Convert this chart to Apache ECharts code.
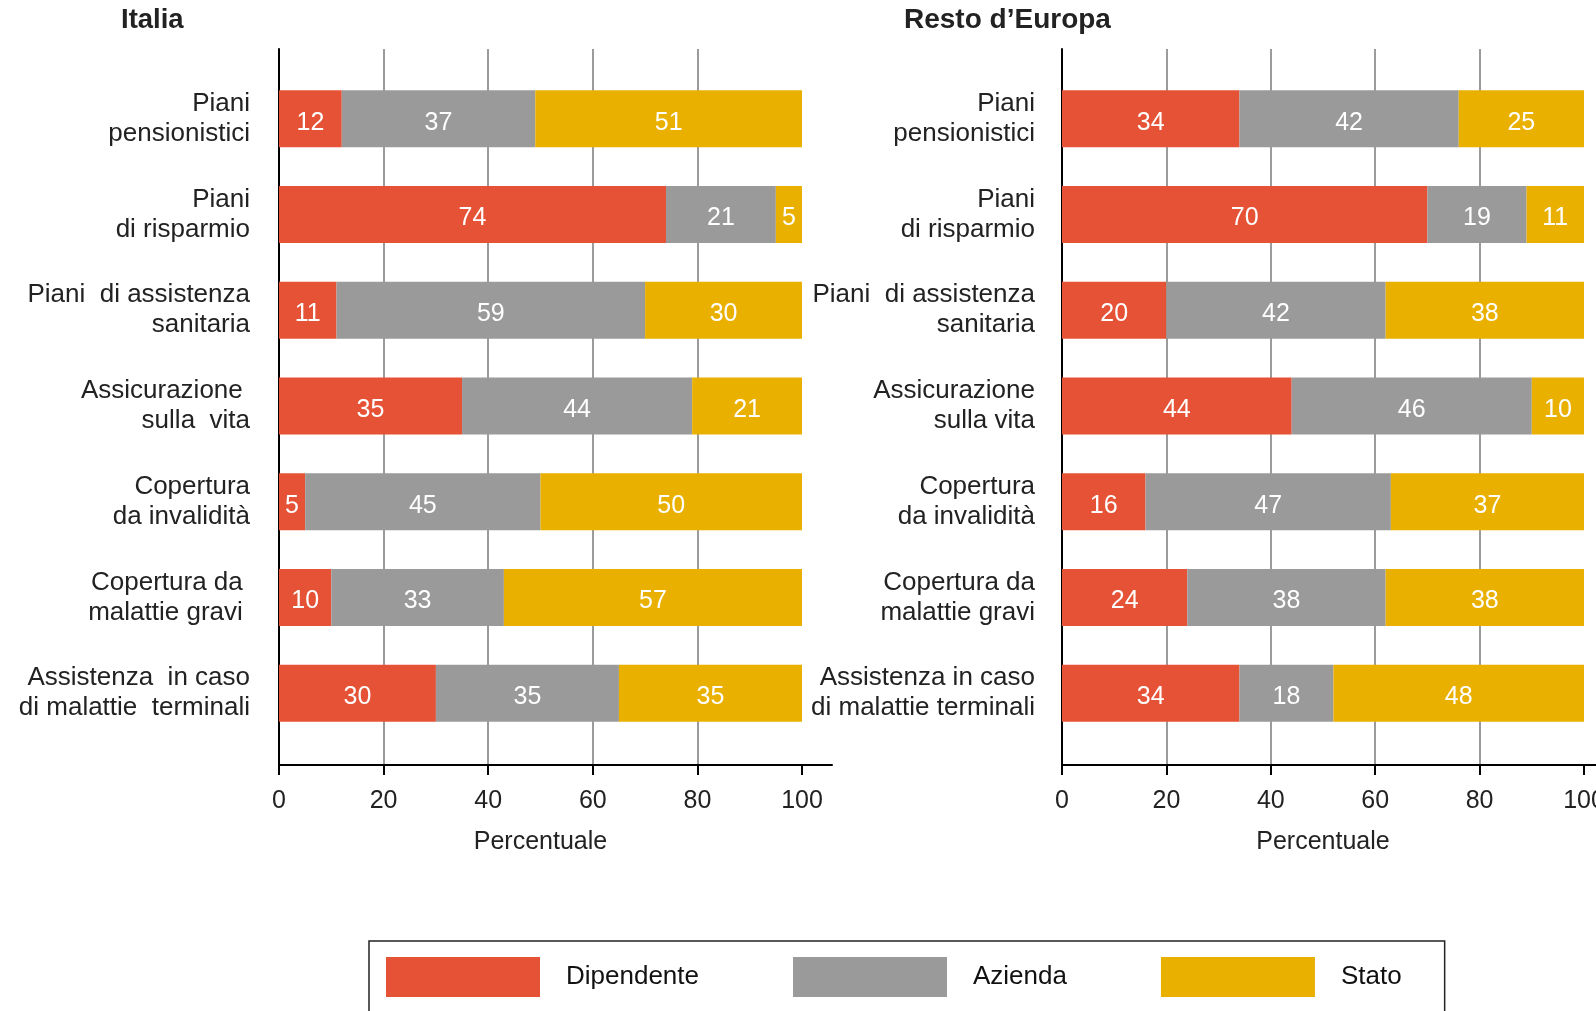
<!DOCTYPE html>
<html>
<head>
<meta charset="utf-8">
<title>Italia - Resto d'Europa</title>
<script src="https://cdn.jsdelivr.net/npm/echarts@6/dist/echarts.min.js"></script>
<style>
    html,body{margin:0;padding:0;background:#fff;}
    #chart{width:1596px;height:1011px;}
</style>
</head>
<body>
<div id="chart"></div>
<script>
// categorie (con gli spazi come nell'originale)
const categorieItalia=['Piani\npensionistici','Piani\ndi risparmio','Piani  di assistenza\nsanitaria','Assicurazione \nsulla  vita','Copertura\nda invalidità','Copertura da \nmalattie gravi ','Assistenza  in caso\ndi malattie  terminali'];
const categorieEuropa=['Piani\npensionistici','Piani\ndi risparmio','Piani  di assistenza\nsanitaria','Assicurazione\nsulla vita','Copertura\nda invalidità','Copertura da\nmalattie gravi','Assistenza in caso\ndi malattie terminali'];
const tickValori=[0,20,40,60,80,100];

// Italia
const italiaDipendente=[12,74,11,35,5,10,30];
const italiaAzienda=[37,21,59,44,45,33,35];
const italiaStato=[51,5,30,21,50,57,35];
// Resto d'Europa
const europaDipendente=[34,70,20,44,16,24,34];
const europaAzienda=[42,19,42,46,47,38,18];
const europaStato=[25,11,38,10,37,38,48];

const colori={Dipendente:'#e55235',Azienda:'#9a9a9a',Stato:'#eab000'};
const font='"Liberation Sans", Arial, sans-serif';

function assePercento(grid,max){
    return {
        type:'value',gridIndex:grid,min:0,max:max,interval:20,
        axisLine:{show:true,onZero:false,lineStyle:{color:'#000',width:2}},
        axisTick:{show:true,length:10,customValues:tickValori,lineStyle:{color:'#000',width:2}},
        axisLabel:{customValues:tickValori,fontSize:25,fontFamily:font,color:'#222',margin:24},
        splitLine:{show:true,showMaxLine:false,lineStyle:{color:'#7a7a7a',width:1.5}}
    };
}
function asseNome(grid){
    return {
        type:'value',gridIndex:grid,min:0,max:100,
        axisLine:{show:false},axisTick:{show:false},axisLabel:{show:false},splitLine:{show:false},
        name:'Percentuale',nameLocation:'middle',nameGap:89,
        nameTextStyle:{fontSize:25,fontFamily:font,color:'#222'}
    };
}
function asseVerticale(grid){
    return {
        type:'value',gridIndex:grid,min:0,max:1,
        axisLine:{show:true,onZero:false,lineStyle:{color:'#000',width:2}},
        axisTick:{show:false},axisLabel:{show:false},splitLine:{show:false}
    };
}
function asseCategorie(grid,dati,margine){
    return {
        type:'category',gridIndex:grid,data:dati,inverse:true,
        axisLine:{show:false},axisTick:{show:false},splitLine:{show:false},
        axisLabel:{fontSize:26,fontFamily:font,color:'#222',margin:margine,lineHeight:30,align:'right'}
    };
}
function barra(nome,dati,asse,stack){
    return {
        name:nome,type:'bar',stack:stack,xAxisIndex:asse,yAxisIndex:asse,
        data:dati,barWidth:57,
        itemStyle:{color:colori[nome]},
        label:{show:true,position:'inside',offset:[0,4],color:'#fff',fontSize:25,fontFamily:font}
    };
}

const chart=echarts.init(document.querySelector('#chart'));
chart.setOption({
    animation:false,
    textStyle:{fontFamily:font},
    title:[
        {text:'Italia',left:121,top:6,padding:0,textStyle:{fontSize:27.5,fontWeight:'bold',color:'#222',fontFamily:font}},
        {text:'Resto d’Europa',left:904,top:6,padding:0,textStyle:{fontSize:28,fontWeight:'bold',color:'#222',fontFamily:font}}
    ],
    legend:{
        data:['Dipendente','Azienda','Stato'],
        left:369,top:941,
        icon:'rect',itemWidth:154,itemHeight:40,itemGap:94,
        padding:[16,43,30,17],
        borderColor:'#222',borderWidth:1.5,
        selectedMode:false,
        textStyle:{fontSize:26,fontFamily:font,color:'#111',padding:[0,0,0,21]}
    },
    grid:[
        {left:279,top:49,width:553,height:716,outerBoundsMode:'none'},
        {left:279,top:71,width:523,height:670,outerBoundsMode:'none'},
        {left:1062,top:49,width:534,height:716,outerBoundsMode:'none'},
        {left:1062,top:71,width:522,height:670,outerBoundsMode:'none'}
    ],
    xAxis:[assePercento(0,105.74),asseNome(1),assePercento(2,102.3),asseNome(3)],
    yAxis:[asseVerticale(0),asseCategorie(1,categorieItalia,29),asseVerticale(2),asseCategorie(3,categorieEuropa,27)],
    series:[
        barra('Dipendente',italiaDipendente,1,'italia'),
        barra('Azienda',italiaAzienda,1,'italia'),
        barra('Stato',italiaStato,1,'italia'),
        barra('Dipendente',europaDipendente,3,'europa'),
        barra('Azienda',europaAzienda,3,'europa'),
        barra('Stato',europaStato,3,'europa')
    ]
});
</script>
</body>
</html>
